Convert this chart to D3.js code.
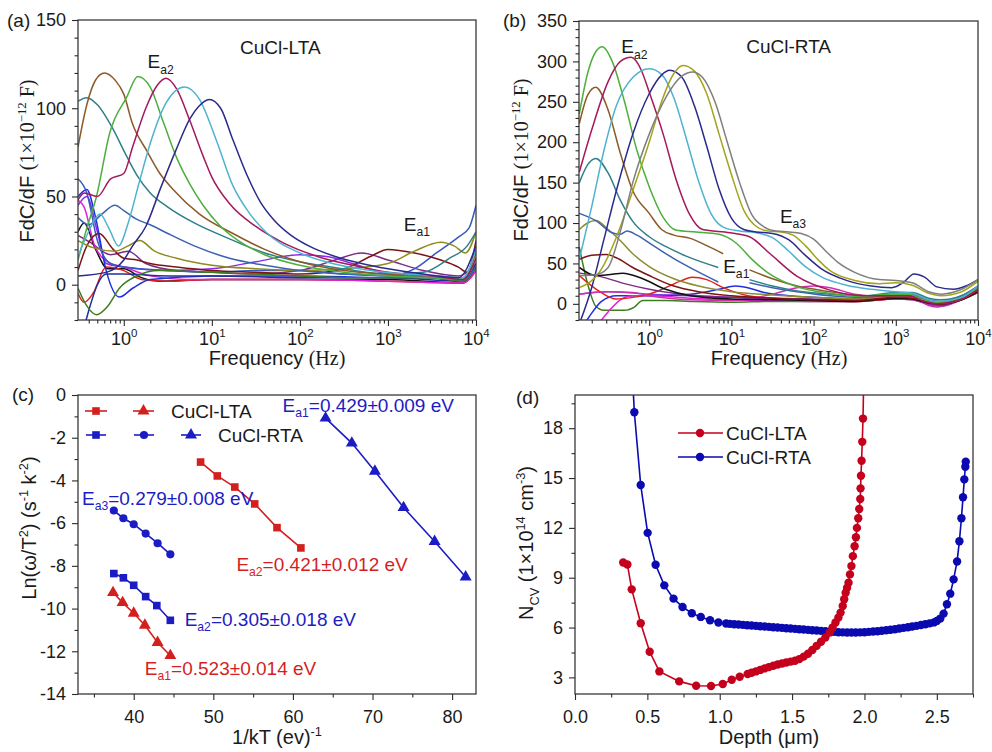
<!DOCTYPE html>
<html>
<head>
<meta charset="utf-8">
<script src="https://cdn.jsdelivr.net/npm/d3@7"></script>
<style>
  body { margin: 0; background: #fff; }
  text { font-family: "Liberation Sans", Arial, sans-serif; fill: #1a1a1a; }
</style>
</head>
<body>
<div id="chart"></div>
<script>
//------------------------------------------------------------------------//
// DATA  (x of panels a/b = log10 of frequency in Hz)

// panel (a) CuCl-LTA, FdC/dF curves
var a_brown = [[-0.52,78],[-0.42,102],[-0.32,116],[-0.22,120],[-0.1,116],[0,108],[0.1,91],[0.26,76],[0.41,63],[0.56,54],[0.86,40],[1.24,29],[1.6,20],[2.0,13],[2.5,8],[3.0,6],[3.5,5],[3.85,4],[4,18]]
var a_green = [[-0.52,14],[-0.42,32],[-0.31,50],[-0.16,86],[0.03,106],[0.16,118],[0.3,112],[0.45,92],[0.6,72],[0.75,57],[0.9,45],[1.1,33],[1.3,25],[1.6,17],[2.0,11],[2.5,7],[3.0,5],[3.5,4],[3.85,3],[4,15]]
var a_dkgreen = [[-0.52,-2],[-0.42,-12],[-0.31,-17],[-0.18,-12],[-0.05,-2],[0.15,5],[0.4,8],[1,7],[1.5,6],[2,5],[2.5,4],[3,4],[3.5,4],[3.85,2],[4,10]]
var a_crimson = [[-0.52,48],[-0.45,52],[-0.3,50],[-0.15,60],[0,63],[0.1,78],[0.25,100],[0.38,113],[0.48,117],[0.6,111],[0.75,93],[0.9,73],[1.0,61],[1.2,46],[1.5,33],[1.8,24],[2.2,16],[2.6,11],[3,7],[3.5,5],[3.85,3],[4,15]]
var a_cyan = [[-0.52,16],[-0.4,30],[-0.27,40],[-0.17,32],[-0.06,22],[0.05,35],[0.17,57],[0.3,80],[0.48,103],[0.69,112],[0.86,105],[1.05,82],[1.24,56],[1.42,41],[1.61,30],[2.0,18],[2.37,12],[2.8,8],[3.2,6],[3.6,5],[3.85,4],[4,20]]
var a_navy = [[-0.52,5],[-0.2,7],[0,14],[0.1,22],[0.25,33],[0.42,55],[0.59,76],[0.75,94],[0.85,101],[0.97,105],[1.1,100],[1.24,82],[1.4,62],[1.55,47],[1.7,37],[1.9,28],[2.1,22],[2.4,16],[2.7,12],[3,9],[3.4,6],[3.8,4],[4,22]]
var a_teal = [[-0.52,104],[-0.42,106],[-0.3,102],[-0.12,88],[0,76],[0.15,62],[0.3,52],[0.5,44],[0.8,35],[1.2,26],[1.6,18],[2,13],[2.5,9],[3,6],[3.4,7],[3.7,15],[3.9,22],[4,30]]
var a_steel = [[-0.52,38],[-0.4,34],[-0.25,40],[-0.1,45],[0,42],[0.15,37],[0.3,34],[0.5,29],[0.8,22],[1.2,15],[1.6,11],[2,8],[2.5,6],[3,5],[3.5,4],[3.85,3],[4,10]]
var a_olive = [[-0.52,25],[-0.35,21],[-0.1,19],[0.05,22],[0.18,25],[0.35,19],[0.6,15],[1,11],[1.5,9],[2,8],[2.5,9],[3,12],[3.3,19],[3.6,24],[3.75,22],[3.88,18],[4,30]]
var a_wine = [[-0.52,8],[-0.42,22],[-0.28,29],[-0.12,20],[0,15],[0.15,14],[0.3,12],[0.6,10],[1,8],[1.5,7],[2,6],[2.5,9],[2.8,16],[3,20],[3.3,18],[3.6,14],[3.8,10],[3.9,7],[4,25]]
var a_purple = [[-0.52,28],[-0.38,24],[-0.15,17],[0.05,19],[0.25,12],[0.6,8],[1,7],[1.5,6],[2,8],[2.4,14],[2.7,18],[3,14],[3.4,8],[3.8,5],[4,12]]
var a_violet = [[-0.52,45],[-0.42,50],[-0.3,30],[-0.2,12],[0,10],[0.5,8],[1,9],[1.5,13],[2,17],[2.3,16],[2.6,12],[3,6],[3.5,4],[3.85,2],[4,10]]
var a_black = [[-0.52,30],[-0.45,35],[-0.32,20],[-0.18,9],[0,9],[0.2,4],[0.4,2],[1,3],[2,3],[3,3],[3.85,1],[4,10]]
var a_red = [[-0.52,-5],[-0.45,-10],[-0.35,-5],[-0.2,10],[0,8],[0.2,3],[0.5,2],[1,3],[2,3],[3,2],[3.85,1],[4,8]]
var a_pink = [[-0.52,48],[-0.45,44],[-0.33,22],[-0.15,12],[0,10],[0.3,5],[0.7,3],[1,3],[2,3],[3,2],[3.85,1],[4,8]]
var a_blue = [[-0.52,50],[-0.42,54],[-0.32,38],[-0.2,8],[-0.05,-7],[0.1,-2],[0.3,3],[1,5],[2,5],[3,4],[3.5,4],[3.85,2],[4,10]]
var a_navy2 = [[-0.48,-30],[-0.4,-15],[-0.3,0],[-0.2,6],[0,6],[0.5,5],[1,5],[2,4],[3,4],[3.85,2],[4,12]]
var a_royal = [[-0.52,60],[-0.42,52],[-0.3,25],[-0.15,12],[0,10],[0.5,8],[1,7],[1.5,8],[2,8],[2.5,6],[3,5],[3.3,9],[3.55,18],[3.8,27],[3.92,32],[4,45]]

// panel (b) CuCl-RTA, FdC/dF curves (null = gap in the measured curve)
var b_green = [[-0.85,235],[-0.75,285],[-0.65,312],[-0.57,318],[-0.45,300],[-0.3,250],[-0.15,190],[0,145],[0.17,107],[0.33,91],[0.57,89],[0.85,86],[1.06,75],[1.25,55],[1.45,38],[1.8,21],[2.2,13],[2.6,9],[2.9,12],[3.15,12],[3.35,5],[3.5,2],[3.8,8],[4,20]]
var b_crimson = [[-0.85,163],[-0.7,215],[-0.5,275],[-0.35,300],[-0.22,305],[-0.1,290],[0,262],[0.17,210],[0.33,153],[0.49,111],[0.65,92],[0.98,88],[1.22,83],[1.47,62],[1.8,34],[2.2,17],[2.6,10],[2.95,10],[3.15,10],[3.35,3],[3.5,0],[3.8,6],[4,18]]
var b_cyan = [[-0.85,55],[-0.7,120],[-0.55,190],[-0.4,245],[-0.2,280],[0,291],[0.15,284],[0.3,255],[0.45,205],[0.6,152],[0.75,112],[0.9,95],[1.1,90],[1.3,88],[1.5,82],[1.7,65],[1.9,46],[2.1,33],[2.4,23],[2.7,18],[3,15],[3.2,13],[3.4,5],[3.5,3],[3.8,8],[4,22]]
var b_navy = [[-0.85,-25],[-0.7,20],[-0.55,80],[-0.4,140],[-0.2,210],[0,260],[0.15,283],[0.25,289],[0.4,280],[0.55,245],[0.7,195],[0.85,142],[1.0,106],[1.15,92],[1.3,89],[1.5,87],[1.7,79],[1.9,60],[2.1,43],[2.4,29],[2.7,22],[2.95,20],[3.1,27],[3.22,37],[3.35,33],[3.5,21],[3.7,18],[3.85,22],[4,30]]
var b_olive = [[-0.85,20],[-0.6,40],[-0.4,82],[-0.2,140],[0,200],[0.15,250],[0.3,285],[0.41,295],[0.55,288],[0.7,260],[0.85,210],[1.0,160],[1.15,116],[1.3,96],[1.45,90],[1.6,89],[1.75,85],[1.9,72],[2.05,55],[2.2,41],[2.5,29],[2.8,25],[3.0,26],[3.2,23],[3.4,13],[3.55,10],[3.8,15],[4,28]]
var b_gray = [[-0.85,35],[-0.65,36],[-0.5,45],[-0.35,90],[-0.2,150],[0,210],[0.2,255],[0.4,282],[0.53,287],[0.65,280],[0.8,250],[0.95,200],[1.1,150],[1.25,110],[1.4,95],[1.55,90],[1.7,89],[1.85,87],[2.0,80],[2.15,65],[2.3,51],[2.5,39],[2.8,30],[3.0,29],[3.2,26],[3.4,15],[3.55,12],[3.8,18],[4,30]]
var b_brown = [[-0.85,223],[-0.75,258],[-0.65,268],[-0.5,240],[-0.35,186],[-0.2,140],[0,112],[0.15,92],[0.3,85],[0.5,81],[0.7,72],[0.9,62],null,[1.22,42],[1.5,31],[1.8,22],[2.2,15],[2.6,10],[3,9],[3.2,9],[3.4,3],[3.55,1],[3.8,7],[4,18]]
var b_teal = [[-0.85,150],[-0.75,172],[-0.65,180],[-0.5,162],[-0.35,128],[-0.2,102],[0,83],[0.2,71],[0.45,59],[0.84,45],null,[1.22,30],[1.5,22],[1.8,16],[2.2,12],[2.6,10],[3,14],[3.2,14],[3.4,7],[3.55,5],[3.8,10],[4,22]]
var b_steel = [[-0.85,112],[-0.65,103],[-0.45,88],[-0.35,86],[-0.27,90],[-0.15,85],[0.05,72],[0.3,56],[0.55,42],[0.84,27],null,[1.22,26],[1.5,20],[1.8,15],[2.2,10],[2.6,8],[3,12],[3.2,12],[3.4,5],[3.55,3],[3.8,10],[4,22]]
var b_olive2 = [[-0.85,92],[-0.75,100],[-0.65,103],[-0.5,92],[-0.35,78],[-0.2,62],[0,46],[0.3,31],[0.6,22],[1,15],[1.5,11],[2,8],[2.5,6],[3,10],[3.2,9],[3.4,3],[3.55,1],[3.8,6],[4,18]]
var b_wine = [[-0.85,55],[-0.7,60],[-0.52,61],[-0.4,57],[-0.2,45],[0,35],[0.3,22],[0.6,15],[1,10],[1.5,7],[2,5],[2.5,4],[3,8],[3.2,7],[3.4,2],[3.55,0],[3.8,6],[4,16]]
var b_black = [[-0.85,45],[-0.65,35],[-0.5,36],[-0.32,38],[-0.1,32],[0.2,18],[0.5,10],[1,6],[1.5,5],[2,4],[2.5,3],[3,7],[3.2,6],[3.4,1],[3.55,0],[3.8,5],[4,15]]
var b_purple = [[-0.85,38],[-0.6,34],[-0.3,25],[0,18],[0.3,13],[0.6,10],[1,8],[1.5,7],[2,6],[2.5,5],[3,8],[3.2,7],[3.4,0],[3.55,-2],[3.8,6],[4,15]]
var b_pink = [[-0.85,12],[-0.5,15],[-0.2,14],[0,10],[0.5,5],[1,4],[1.5,12],[1.8,20],[2.0,22],[2.2,20],[2.5,12],[3,8],[3.2,8],[3.4,-2],[3.5,-4],[3.65,0],[3.8,5],[4,15]]
var b_red = [[-0.85,35],[-0.6,15],[-0.4,6],[-0.2,8],[0,12],[0.2,20],[0.4,29],[0.52,33],[0.7,30],[0.9,20],[1.2,10],[1.5,7],[2,5],[2.5,3],[3,6],[3.2,6],[3.4,1],[3.55,0],[3.8,5],[4,14]]
var b_magenta = [[-0.62,-25],[-0.5,-10],[-0.35,5],[-0.2,10],[0,10],[0.5,7],[1,5],[1.5,4],[2,3],[2.5,3],[3,6],[3.2,5],[3.4,-1],[3.55,-3],[3.8,5],[4,14]]
var b_blue = [[-0.85,-35],[-0.73,-16],[-0.58,3],[-0.4,10],[0,10],[0.5,12],[0.85,18],[1.05,22],[1.2,20],[1.4,14],[1.7,10],[2,8],[2.5,6],[3,10],[3.2,10],[3.4,4],[3.55,2],[3.8,8],[4,20]]
var b_dkgreen = [[-0.85,70],[-0.75,25],[-0.65,-3],[-0.55,-8],[-0.3,-8],[-0.18,-4],[-0.08,4],[0.2,4],[0.5,3],[1,2],[1.5,3],[2,3],[2.5,3],[3,6],[3.2,5],[3.4,0],[3.55,-1],[3.8,5],[4,14]]
var b_violet = [[-0.85,12],[-0.5,15],[0,12],[0.5,10],[1,8],[1.5,6],[2,5],[2.5,4],[3,7],[3.2,7],[3.4,1],[3.55,0],[3.8,6],[4,15]]

// panel (c) Arrhenius points
var cLtaSqX = [48.4, 50.5, 52.7, 55.2, 58.0, 61.0]
var cLtaSqY = [-3.14, -3.79, -4.31, -5.10, -6.21, -7.16]
var cLtaTriX = [37.4, 38.6, 40.0, 41.4, 43.0, 44.6]
var cLtaTriY = [-9.25, -9.72, -10.22, -10.78, -11.59, -12.2]
var cRtaSqX = [37.5, 38.7, 40.0, 41.5, 42.9, 44.6]
var cRtaSqY = [-8.36, -8.56, -8.91, -9.44, -9.86, -10.55]
var cRtaCirX = [37.5, 38.7, 40.0, 41.5, 43.0, 44.6]
var cRtaCirY = [-5.41, -5.77, -6.05, -6.49, -6.94, -7.46]
var cRtaTriX = [64.1, 67.4, 70.3, 73.9, 77.8, 81.7]
var cRtaTriY = [-1.08, -2.25, -3.57, -5.27, -6.86, -8.52]

// panel (d) N_CV depth profiles
var ltaDepth = [0.333,0.362,0.392,0.454,0.516,0.583,0.720,0.837,0.940,1.021,1.083,1.138,1.193,1.22,1.25,1.28,1.31,1.34,1.37,1.40,1.43,1.46,1.49,1.52,1.55,1.58,1.61,1.64,1.67,1.70,1.73,1.76,1.78,1.80,1.82,1.835,1.85,1.86,1.87,1.88,1.89,1.90,1.91,1.92,1.932,1.941,1.948,1.957,1.964,1.971,1.973,1.976,1.98,1.985,1.99,1.995]
var ltaN = [9.92,9.8,8.3,6.26,4.54,3.36,2.76,2.5,2.48,2.6,2.86,3.04,3.2,3.28,3.36,3.45,3.54,3.62,3.7,3.78,3.84,3.9,3.95,4.0,4.1,4.25,4.42,4.65,4.9,5.15,5.4,5.7,6.0,6.3,6.6,6.9,7.3,7.7,8.1,8.4,8.7,9.2,9.7,10.3,10.9,11.44,12.0,12.58,13.14,13.74,14.38,15.14,16.04,17.18,18.58,21]
var rtaDepth = [0.395,0.41,0.454,0.502,0.557,0.617,0.681,0.743,0.807,0.869,0.933,0.991,1.044,1.07,1.10,1.13,1.16,1.19,1.22,1.25,1.28,1.31,1.34,1.37,1.40,1.43,1.46,1.49,1.52,1.55,1.58,1.61,1.64,1.67,1.70,1.73,1.76,1.79,1.82,1.85,1.88,1.91,1.94,1.97,2.00,2.03,2.06,2.09,2.12,2.15,2.18,2.21,2.24,2.27,2.30,2.33,2.36,2.39,2.42,2.45,2.48,2.50,2.524,2.547,2.57,2.593,2.616,2.64,2.656,2.67,2.681,2.69,2.697,2.70]
var rtaN = [21.5,18.96,14.58,11.7,9.78,8.54,7.74,7.24,6.86,6.64,6.44,6.3,6.24,6.22,6.2,6.18,6.16,6.14,6.12,6.1,6.08,6.06,6.04,6.02,6.0,5.98,5.96,5.94,5.92,5.9,5.88,5.86,5.84,5.82,5.8,5.78,5.76,5.74,5.72,5.71,5.7,5.7,5.7,5.71,5.72,5.74,5.76,5.78,5.81,5.84,5.87,5.9,5.94,5.98,6.02,6.06,6.1,6.15,6.2,6.25,6.31,6.4,6.54,6.84,7.4,8.04,8.9,9.98,11.2,12.58,13.84,14.92,15.68,15.98]

// ticks
var freqTicks = [1, 10, 100, 1000, 10000]
var aTicksY = [0, 50, 100, 150]
var bTicksY = [0, 50, 100, 150, 200, 250, 300, 350]
var cTicksX = [40, 50, 60, 70, 80]
var cTicksY = [0, -2, -4, -6, -8, -10, -12, -14]
var dTicksX = [0.0, 0.5, 1.0, 1.5, 2.0, 2.5]
var dTicksY = [3, 6, 9, 12, 15, 18]

//------------------------------------------------------------------------//
// layout
var boxA = {l: 78, t: 20, w: 398, h: 300},
  boxB = {l: 579, t: 21, w: 399, h: 299},
  boxC = {l: 78, t: 395, w: 398, h: 299},
  boxD = {l: 575, t: 395, w: 398, h: 299};

var red = "#d41f1f", blue = "#1c1cc4", dRed = "#c4001c", dBlue = "#0a0ab0";

var svg = d3.select("#chart")
  .append("svg")
  .attr("width", 992)
  .attr("height", 752);

function makePanel(box, id) {
  var g = svg.append("g")
    .attr("transform", "translate(" + box.l + "," + box.t + ")");
  g.append("clipPath").attr("id", id)
    .append("rect").attr("width", box.w).attr("height", box.h);
  return g;
}

function frame(g, box) {
  g.append("rect")
    .attr("width", box.w).attr("height", box.h)
    .attr("fill", "none").attr("stroke", "#3a3a3a").attr("stroke-width", 1.3);
}

// rich text: parts = [text, "n"|"sup"|"sub", font]
// dy is only written when the baseline really moves, so a parent dy is kept
function rich(t, parts, fs) {
  var shift = 0;
  parts.forEach(function(p) {
    var target = p[1] === "sup" ? -0.42 * fs : (p[1] === "sub" ? 0.28 * fs : 0);
    var s = t.append("tspan").text(p[0]);
    if (target - shift !== 0) s.attr("dy", target - shift);
    shift = target;
    if (p[1] === "sup" || p[1] === "sub") s.style("font-size", (fs * 0.64) + "px");
    if (p[2]) s.style("font-family", p[2]);
  });
  return t;
}

function styleAxis(sel, fs) {
  sel.attr("font-size", fs).attr("font-family", "Liberation Sans, Arial, sans-serif").attr("color", "#2a2a2a");
  sel.select(".domain").remove();
  sel.selectAll(".tick line").attr("stroke-width", 1.1);
}

function bottomAxis(g, box, scale, majors, minors, pad, fmt) {
  var gm = g.append("g").attr("transform", "translate(0," + box.h + ")")
    .call(d3.axisBottom(scale).tickValues(minors).tickSize(3.5).tickFormat(""));
  styleAxis(gm, 18);
  var ga = g.append("g").attr("transform", "translate(0," + box.h + ")")
    .call(d3.axisBottom(scale).tickValues(majors).tickSize(6).tickPadding(pad).tickFormat(fmt));
  styleAxis(ga, 18);
  return ga;
}

function leftAxis(g, scale, majors, minors, fmt) {
  var gm = g.append("g").call(d3.axisLeft(scale).tickValues(minors).tickSize(3.5).tickFormat(""));
  styleAxis(gm, 18);
  var ga = g.append("g").call(d3.axisLeft(scale).tickValues(majors).tickSize(6).tickPadding(6).tickFormat(fmt));
  styleAxis(ga, 18);
  return ga;
}

function powLabels(ga) {
  ga.selectAll(".tick text").each(function(d) {
    var t = d3.select(this).text("");
    rich(t, [["10", "n"], [String(Math.round(Math.log10(d))), "sup"]], 18);
  });
}

function label(x, y, rot, parts, fs, anchor, color) {
  var t = svg.append("text")
    .attr("transform", "translate(" + x + "," + y + ")" + (rot ? "rotate(" + rot + ")" : ""))
    .attr("text-anchor", anchor || "middle")
    .style("font-size", fs + "px");
  if (color) t.style("fill", color);
  rich(t, parts, fs);
  return t;
}

//------------------------------------------------------------------------//
// PANELS (a) and (b): FdC/dF spectra
function spectra(box, id, xmin, ymin, ymax, curves, yTicks, yStep) {
  var g = makePanel(box, id);
  var x = d3.scaleLog().domain([Math.pow(10, xmin), 1e4]).range([0, box.w]);
  var y = d3.scaleLinear().domain([ymin, ymax]).range([box.h, 0]);

  var line = d3.line()
    .defined(function(d) { return d !== null; })
    .x(function(d) { return x(Math.pow(10, d[0])); })
    .y(function(d) { return y(d[1]); })
    .curve(d3.curveMonotoneX);

  var cg = g.append("g").attr("clip-path", "url(#" + id + ")");
  curves.forEach(function(c) {
    cg.append("path")
      .datum(c[1])
      .attr("fill", "none")
      .attr("stroke", c[0])
      .attr("stroke-width", 1.5)
      .attr("d", line);
  });

  frame(g, box);
  var minors = x.ticks().filter(function(v) { return freqTicks.indexOf(v) < 0; });
  var gx = bottomAxis(g, box, x, freqTicks, minors, 6, function(d) { return d; });
  powLabels(gx);
  var yMin = d3.range(Math.ceil(ymin / yStep) * yStep, ymax + 0.1, yStep)
    .filter(function(v) { return yTicks.indexOf(v) < 0; });
  leftAxis(g, y, yTicks, yMin, function(d) { return d; });
  return {g: g, x: x, y: y};
}

var pa = spectra(boxA, "clipA", -0.52, -20, 150, [
  ["#7f2a84", a_purple], ["#8a2be2", a_violet], ["#111111", a_black], ["#e0201c", a_red],
  ["#e022d8", a_pink], ["#1f2fe0", a_blue], ["#20309c", a_navy2], ["#3a58c0", a_royal],
  ["#3d7d1e", a_dkgreen], ["#7b1414", a_wine], ["#8e8c1c", a_olive], ["#3c62b0", a_steel],
  ["#2e7f8c", a_teal], ["#8c5a28", a_brown], ["#4daf3c", a_green], ["#a3195b", a_crimson],
  ["#4eb3cf", a_cyan], ["#2b2a8c", a_navy]
], aTicksY, 10);

var pb = spectra(boxB, "clipB", -0.854, -20, 350, [
  ["#8a40e0", b_violet], ["#3d7d1e", b_dkgreen], ["#1f2fe0", b_blue], ["#e022d8", b_magenta],
  ["#e0201c", b_red], ["#d030b0", b_pink], ["#7f2a84", b_purple], ["#111111", b_black],
  ["#7b1414", b_wine], ["#8e8c2c", b_olive2], ["#3c62b0", b_steel], ["#2e7f8c", b_teal],
  ["#8c5a28", b_brown], ["#4daf3c", b_green], ["#a3195b", b_crimson], ["#4eb3cf", b_cyan],
  ["#2b2a8c", b_navy], ["#a3a31c", b_olive], ["#7f7f7f", b_gray]
], bTicksY, 10);

// in-plot texts of (a)/(b), placed in data units
function note(p, box, lgf, v, parts, fs) {
  label(box.l + p.x(Math.pow(10, lgf)), box.t + p.y(v), 0, parts, fs, "start");
}
note(pa, boxA, 1.32, 131, [["CuCl-LTA", "n"]], 19);
note(pa, boxA, 0.27, 122.7, [["E", "n"], ["a2", "sub"]], 19);
note(pa, boxA, 3.18, 30.7, [["E", "n"], ["a1", "sub"]], 19);
note(pb, boxB, 1.18, 310, [["CuCl-RTA", "n"]], 19);
note(pb, boxB, -0.34, 310, [["E", "n"], ["a2", "sub"]], 19);
note(pb, boxB, 1.59, 100, [["E", "n"], ["a3", "sub"]], 19);
note(pb, boxB, 0.9, 38, [["E", "n"], ["a1", "sub"]], 19);

var serif = "Liberation Serif, Times New Roman, serif";
label(34, 161, -90, [["FdC/dF ", "n"], ["(1×10", "n", serif], ["−12", "sup", serif], [" F)", "n", serif]], 20);
label(528, 160, -90, [["FdC/dF ", "n"], ["(1×10", "n", serif], ["−12", "sup", serif], [" F)", "n", serif]], 20);
label(277, 365, 0, [["Frequency ", "n"], ["(Hz)", "n", serif]], 20);
label(779, 365, 0, [["Frequency ", "n"], ["(Hz)", "n", serif]], 20);
label(7, 27, 0, [["(a)", "n"]], 19, "start");
label(503, 27, 0, [["(b)", "n"]], 19, "start");

//------------------------------------------------------------------------//
// PANEL (c): Arrhenius plot
var gc = makePanel(boxC, "clipC");
var xc = d3.scaleLinear().domain([33, 83]).range([0, boxC.w]);
var yc = d3.scaleLinear().domain([-14, 0]).range([boxC.h, 0]);

var seriesC = [
  {xs: cLtaSqX, ys: cLtaSqY, col: red, sym: d3.symbolSquare, size: 58},
  {xs: cLtaTriX, ys: cLtaTriY, col: red, sym: d3.symbolTriangle, size: 62},
  {xs: cRtaSqX, ys: cRtaSqY, col: blue, sym: d3.symbolSquare, size: 58},
  {xs: cRtaCirX, ys: cRtaCirY, col: blue, sym: d3.symbolCircle, size: 52},
  {xs: cRtaTriX, ys: cRtaTriY, col: blue, sym: d3.symbolTriangle, size: 62}
];
var lineC = d3.line()
  .x(function(d) { return xc(d[0]); })
  .y(function(d) { return yc(d[1]); });

seriesC.forEach(function(s) {
  var pts = s.xs.map(function(v, i) { return [v, s.ys[i]]; });
  gc.append("path").datum(pts)
    .attr("fill", "none").attr("stroke", s.col).attr("stroke-width", 1.6)
    .attr("d", lineC);
  gc.selectAll(null).data(pts).enter().append("path")
    .attr("transform", function(d) { return "translate(" + xc(d[0]) + "," + yc(d[1]) + ")"; })
    .attr("d", d3.symbol().type(s.sym).size(s.size))
    .attr("fill", s.col);
});

frame(gc, boxC);
bottomAxis(gc, boxC, xc, cTicksX, [35, 45, 55, 65, 75], 10, function(d) { return d; });
leftAxis(gc, yc, cTicksY, [-1, -3, -5, -7, -9, -11, -13], function(d) { return d; });

// legend (c)
function legSym(g, x0, x1, yy, col, sym, size) {
  g.append("line").attr("x1", x0).attr("x2", x1).attr("y1", yy).attr("y2", yy)
    .attr("stroke", col).attr("stroke-width", 1.6);
  g.append("path").attr("transform", "translate(" + ((x0 + x1) / 2) + "," + yy + ")")
    .attr("d", d3.symbol().type(sym).size(size)).attr("fill", col);
}
legSym(svg, 85, 107, 411, red, d3.symbolSquare, 58);
legSym(svg, 133, 154, 411, red, d3.symbolTriangle, 62);
legSym(svg, 86, 106, 435, blue, d3.symbolSquare, 58);
legSym(svg, 134, 154, 435, blue, d3.symbolCircle, 52);
legSym(svg, 181, 201, 435, blue, d3.symbolTriangle, 62);
label(171, 418, 0, [["CuCl-LTA", "n"]], 19, "start");
label(218, 442, 0, [["CuCl-RTA", "n"]], 19, "start");

// activation energy labels, placed in data units
var eaText = [
  {x: 58.7, y: -0.8, sub: "a1", val: "=0.429±0.009 eV", col: blue},
  {x: 33.5, y: -5.15, sub: "a3", val: "=0.279±0.008 eV", col: blue},
  {x: 52.9, y: -8.24, sub: "a2", val: "=0.421±0.012 eV", col: red},
  {x: 46.4, y: -10.81, sub: "a2", val: "=0.305±0.018 eV", col: blue},
  {x: 41.4, y: -13.1, sub: "a1", val: "=0.523±0.014 eV", col: red}
];
eaText.forEach(function(e) {
  label(boxC.l + xc(e.x), boxC.t + yc(e.y), 0, [["E", "n"], [e.sub, "sub"], [e.val, "n"]], 19, "start", e.col);
});

label(36, 528, -90, [["Ln(ω/T", "n"], ["2", "sup"], [") (s", "n"], ["-1", "sup"], [" k", "n"], ["-2", "sup"], [")", "n"]], 20);
label(277, 744, 0, [["1/kT (ev)", "n"], ["-1", "sup"]], 20);
label(12, 401, 0, [["(c)", "n"]], 19, "start");

//------------------------------------------------------------------------//
// PANEL (d): N_CV profiles
var gd = makePanel(boxD, "clipD");
var xd = d3.scaleLinear().domain([0, 2.75]).range([0, boxD.w]);
var yd = d3.scaleLinear().domain([2, 20]).range([boxD.h, 0]);

var lineD = d3.line()
  .x(function(d) { return xd(d[0]); })
  .y(function(d) { return yd(d[1]); });

var cd = gd.append("g").attr("clip-path", "url(#clipD)");
[[rtaDepth, rtaN, dBlue], [ltaDepth, ltaN, dRed]].forEach(function(s) {
  var pts = s[0].map(function(v, i) { return [v, s[1][i]]; });
  cd.append("path").datum(pts)
    .attr("fill", "none").attr("stroke", s[2]).attr("stroke-width", 1.6)
    .attr("d", lineD);
  cd.selectAll(null).data(pts).enter().append("circle")
    .attr("cx", function(d) { return xd(d[0]); })
    .attr("cy", function(d) { return yd(d[1]); })
    .attr("r", 4.2)
    .attr("fill", s[2]);
});

frame(gd, boxD);
bottomAxis(gd, boxD, xd, dTicksX, [0.25, 0.75, 1.25, 1.75, 2.25, 2.75], 10, d3.format(".1f"));
leftAxis(gd, yd, dTicksY, [4.5, 7.5, 10.5, 13.5, 16.5, 19.5], function(d) { return d; });

// legend (d)
[[433, dRed, "CuCl-LTA"], [457, dBlue, "CuCl-RTA"]].forEach(function(r) {
  svg.append("line").attr("x1", 678).attr("x2", 723).attr("y1", r[0]).attr("y2", r[0])
    .attr("stroke", r[1]).attr("stroke-width", 1.6);
  svg.append("circle").attr("cx", 700).attr("cy", r[0]).attr("r", 4.2).attr("fill", r[1]);
  label(726, r[0] + 7, 0, [[r[2], "n"]], 19, "start");
});

label(533, 543, -90, [["N", "n"], ["CV", "sub"], [" (1×10", "n"], ["14", "sup"], [" cm", "n"], ["-3", "sup"], [")", "n"]], 20);
label(769, 744, 0, [["Depth (μm)", "n"]], 20);
label(516, 404, 0, [["(d)", "n"]], 19, "start");
</script>
</body>
</html>
